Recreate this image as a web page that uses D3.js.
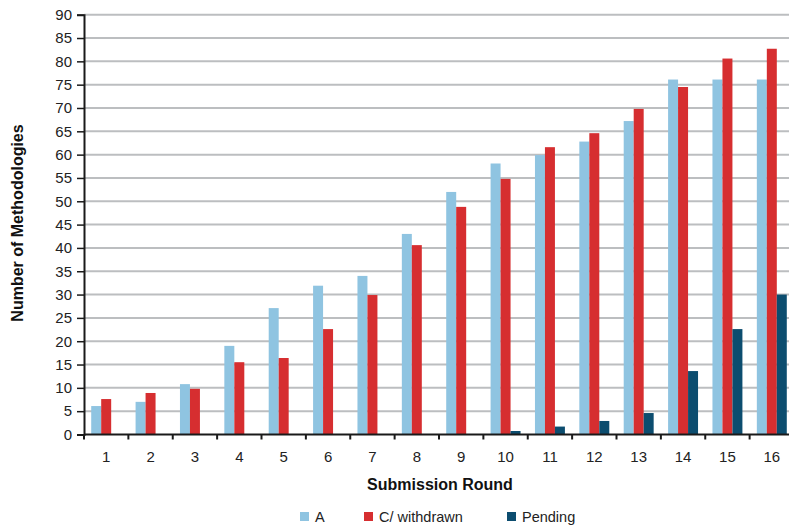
<!DOCTYPE html>
<html><head><meta charset="utf-8">
<script src="https://cdn.jsdelivr.net/npm/d3@7/dist/d3.min.js"></script>
<style>body{margin:0;background:#fff;} svg{display:block;font-family:"Liberation Sans",Arial,sans-serif;}</style>
</head><body>
<svg id="c" width="789" height="528"></svg>
<script>
const rounds = ["1","2","3","4","5","6","7","8","9","10","11","12","13","14","15","16"];
const seriesNames = ["A","C/ withdrawn","Pending"];
const valuesA = [6.1,7.0,10.8,19.0,27.1,31.9,34.0,43.0,52.0,58.1,59.9,62.8,67.2,76.1,76.1,76.1];
const valuesC = [7.6,8.9,9.8,15.5,16.4,22.6,29.9,40.6,48.8,54.8,61.6,64.6,69.8,74.5,80.6,82.7];
const valuesPending = [0,0,0,0,0,0,0,0,0,0.75,1.7,2.9,4.6,13.6,22.6,30.0];
const yTicks = [0,5,10,15,20,25,30,35,40,45,50,55,60,65,70,75,80,85,90];
const colors = ["#8fc4e1","#d62e30","#0c4d6f"];

const svg = d3.select("#c");
const mLeft = 84, mRight = 794, mTop = 14.7, mBottom = 434.5;
const y = d3.scaleLinear().domain([0,90]).range([mBottom, mTop]);
const x0 = d3.scaleBand().domain(rounds).range([mLeft, mRight]).padding(0);
const step = x0.step();
const x1 = d3.scaleBand().domain(seriesNames).range([0.1625*step, 0.8375*step]).padding(0);

// gridlines
svg.append("g").selectAll("line").data(yTicks.filter(d=>d>0)).join("line")
  .attr("x1", mLeft).attr("x2", 789).attr("y1", d=>y(d)).attr("y2", d=>y(d))
  .attr("stroke","#bcbec0").attr("stroke-width",2);

const series = [valuesA, valuesC, valuesPending];
const data = [];
rounds.forEach((r,i)=>seriesNames.forEach((s,j)=>data.push({r, s, v: series[j][i], c: colors[j]})));
svg.append("g").selectAll("rect").data(data.filter(d=>d.v>0)).join("rect")
  .attr("x", d=>x0(d.r)+x1(d.s)).attr("width", x1.bandwidth())
  .attr("y", d=>y(d.v)).attr("height", d=>mBottom - y(d.v))
  .attr("fill", d=>d.c);

// y axis
const ya = svg.append("g").attr("transform",`translate(${mLeft},0)`)
  .call(d3.axisLeft(y).tickValues(yTicks).tickSize(7).tickPadding(5));
ya.select(".domain").attr("stroke","#1a1a1a").attr("stroke-width",2);
ya.selectAll(".tick line").attr("stroke","#1a1a1a").attr("stroke-width",1.5);
ya.selectAll(".tick text").attr("font-size",15).attr("fill","#222").attr("font-family","Liberation Sans, Arial, sans-serif");

// x axis
const xa = svg.append("g").attr("transform",`translate(0,${mBottom})`)
  .call(d3.axisBottom(x0).tickSize(0).tickPadding(17));
xa.select(".domain").remove();
xa.selectAll(".tick text").attr("font-size",15).attr("fill","#222").attr("font-family","Liberation Sans, Arial, sans-serif");
svg.append("line").attr("x1",mLeft).attr("x2",789).attr("y1",mBottom).attr("y2",mBottom)
  .attr("stroke","#1a1a1a").attr("stroke-width",2);
svg.append("g").selectAll("line").data(rounds).join("line")
  .attr("x1", d=>x0(d)).attr("x2", d=>x0(d)).attr("y1", mBottom).attr("y2", mBottom+5)
  .attr("stroke","#1a1a1a").attr("stroke-width",2);

// titles
svg.append("text").attr("transform","translate(23,223) rotate(-90)").attr("text-anchor","middle")
  .attr("font-size",16).attr("font-weight","bold").attr("fill","#111").text("Number of Methodologies");
svg.append("text").attr("x",440).attr("y",490).attr("text-anchor","middle")
  .attr("font-size",16).attr("font-weight","bold").attr("fill","#111").text("Submission Round");

// legend
const legX = [300, 364, 507];
const lg = svg.append("g").selectAll("g").data(seriesNames).join("g")
  .attr("transform",(d,i)=>`translate(${legX[i]},512)`);
lg.append("rect").attr("width",9).attr("height",9).attr("fill",(d,i)=>colors[i]);
lg.append("text").attr("x",15).attr("y",10).attr("font-size",14.5).attr("fill","#222").text(d=>d);
</script>
</body></html>
